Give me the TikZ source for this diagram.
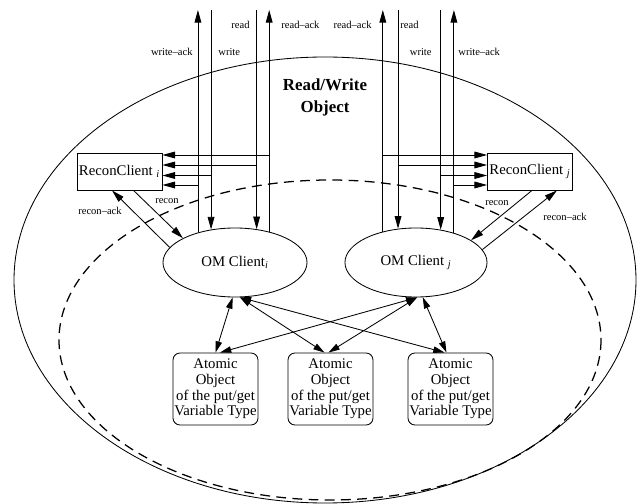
\documentclass[tikz,border=0pt]{standalone}
\usepackage{fontspec}
\setmainfont{Liberation Serif}
\usetikzlibrary{arrows.meta,shapes.geometric,calc}
\begin{document}
\begin{tikzpicture}[x=0.025cm,y=-0.025cm, line width=0.6pt,
  arr/.style={-{Triangle[length=9pt,width=4.8pt]}},
  darr/.style={{Triangle[length=8pt,width=4.6pt]}-{Triangle[length=8pt,width=4.6pt]}},
  lbl/.style={font=\fontsize{7.5}{9}\selectfont, inner sep=0pt},
  omnode/.style={draw, ellipse, minimum height=1.725cm, inner sep=0pt, font=\fontsize{10.5}{12}\selectfont},
  recbox/.style={draw, rectangle, minimum width=2.125cm, minimum height=0.925cm, inner sep=1pt, font=\fontsize{10.5}{12}\selectfont},
  atombox/.style={draw, rectangle, rounded corners=5pt, minimum width=2.125cm, minimum height=1.8cm, inner sep=0.5pt, align=center, font=\fontsize{10.5}{11.1}\selectfont},
  dashedell/.style={line width=0.9pt, dash pattern=on 7pt off 4.5pt}]
\useasboundingbox (0,0) rectangle (640,504);

% big ellipses
\draw (325,280) ellipse [x radius=311, y radius=223];
\draw[dashedell] (330,340) ellipse [x radius=271, y radius=160];

% title
\node[align=center, font=\fontsize{12}{15.6}\selectfont\bfseries] (title) at (325,97) {Read/Write\\Object};

% nodes
\node[omnode, minimum width=3.6cm] (OMi) at (235,262.5) {OM Client\textsubscript{\textit{i}}};
\node[omnode, minimum width=3.55cm] (OMj) at (416,262.5) {OM Client \textsubscript{\textit{j}}};
\node[recbox] (Ri) at (119.5,171.5) {ReconClient \textsubscript{\textit{i}}};
\node[recbox] (Rj) at (530,171.5) {ReconClient \textsubscript{\textit{j}}};
\node[atombox] (A1) at (215.5,389) {Atomic\\Object\\of the put/get\\Variable Type};
\node[atombox] (A2) at (330.5,389) {Atomic\\Object\\of the put/get\\Variable Type};
\node[atombox] (A3) at (450.5,389) {Atomic\\Object\\of the put/get\\Variable Type};

% helper coordinates
\coordinate (top) at (0,10);
\coordinate (hA) at (0,155);
\coordinate (hB) at (0,165);
\coordinate (hC) at (0,175.5);
\coordinate (hD) at (0,185);

% left vertical lines
\draw[arr] (OMi.141.3) -- (OMi.141.3 |- top);   % write-ack
\draw[arr] (OMi.126.4 |- top) -- (OMi.126.4);   % write
\draw[arr] (OMi.57.5 |- top) -- (OMi.57.5);     % read
\draw[arr] (OMi.42.9) -- (OMi.42.9 |- top);     % read-ack
% right vertical lines
\draw[arr] (OMj.137.3) -- (OMj.137.3 |- top);   % read-ack
\draw[arr] (OMj.118.3 |- top) -- (OMj.118.3);   % read
\draw[arr] (OMj.53.6 |- top) -- (OMj.53.6);     % write
\draw[arr] (OMj.38.5) -- (OMj.38.5 |- top);     % write-ack

% copies to ReconClient i
\draw[arr] (OMi.42.9 |- hA) -- (Ri.east |- hA);
\draw[arr] (OMi.57.5 |- hB) -- (Ri.east |- hB);
\draw[arr] (OMi.126.4 |- hC) -- (Ri.east |- hC);
\draw[arr] (OMi.141.3 |- hD) -- (Ri.east |- hD);
% copies to ReconClient j
\draw[arr] (OMj.137.3 |- hA) -- (Rj.west |- hA);
\draw[arr] (OMj.118.3 |- hB) -- (Rj.west |- hB);
\draw[arr] (OMj.53.6 |- hC) -- (Rj.west |- hC);
\draw[arr] (OMj.38.5 |- hD) -- (Rj.west |- hD);

% top labels
\node[lbl, anchor=east] (l1) at (193,52) {write--ack};
\node[lbl, anchor=west] (l2) at (218,52) {write};
\node[lbl, anchor=east] (l3) at (250,25) {read};
\node[lbl, anchor=west] (l4) at (281,25) {read--ack};
\node[lbl, anchor=east] (l5) at (372,25) {read--ack};
\node[lbl, anchor=west] (l6) at (400,25) {read};
\node[lbl, anchor=east] (l7) at (432,52) {write};
\node[lbl, anchor=west] (l8) at (458,52) {write--ack};

% recon arrows
\draw[arr] (OMi.167) -- ($(Ri.south)+(-7.5,0)$);
\draw[arr] ($(Ri.south)+(14,0)$) -- (OMi.155);
\draw[arr] ($(Rj.south)+(2,0)$) -- (OMj.22);
\draw[arr] (OMj.11) -- ($(Rj.south)+(27,0)$);
\node[lbl] (r1) at (167,201) {recon};
\node[lbl] (r2) at (100,211) {recon--ack};
\node[lbl] (r3) at (497,203) {recon};
\node[lbl] (r4) at (565,217) {recon--ack};

% atomic connections
\draw[darr] (OMi.266) -- (A1.north);
\draw[darr] (OMi.278) -- ($(A2.north)+(-6,0)$);
\draw[darr] (OMi.278) -- ($(A3.north)+(-6,0)$);
\draw[darr] (OMj.272) -- ($(A1.north)+(4.5,0)$);
\draw[darr] (OMj.272) -- ($(A2.north)+(-2,0)$);
\draw[darr] (OMj.281) -- ($(A3.north)+(-4,0)$);
\end{tikzpicture}
\end{document}
